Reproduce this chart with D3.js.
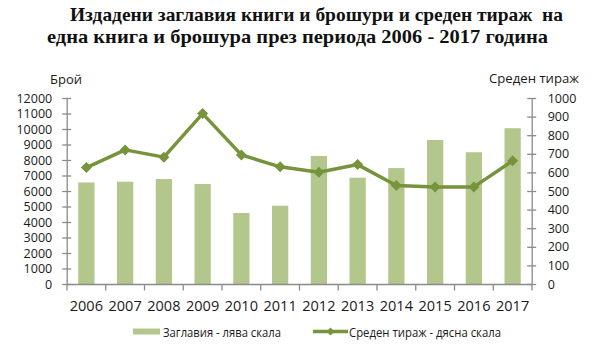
<!DOCTYPE html>
<html>
<head>
<meta charset="utf-8">
<script src="https://cdn.jsdelivr.net/npm/d3@7/dist/d3.min.js"></script>
<style>
  html, body { margin: 0; padding: 0; background: #fff; }
  svg { display: block; }
  text { font-family: "Open Sans", sans-serif; fill: #1a1a1a; }
  .title { font-family: "Liberation Serif", "Times New Roman", serif; font-weight: bold; font-size: 19.5px; fill: #111; white-space: pre; }
</style>
</head>
<body>
<svg id="chart" width="614" height="346"></svg>
<script>
// Years on the category axis
const years = ["2006", "2007", "2008", "2009", "2010", "2011", "2012", "2013", "2014", "2015", "2016", "2017"];
// Published titles (books and brochures) – left scale
const titles = [6550, 6600, 6770, 6450, 4580, 5050, 8260, 6860, 7480, 9290, 8500, 10050];
// Average print run per title – right scale
const avgRun = [626, 721, 682, 916, 694, 630, 601, 642, 530, 521, 522, 662];
// Axis tick values
const leftTicks = d3.range(0, 12001, 1000);
const rightTicks = d3.range(0, 1001, 100);

const titleLines = [
  "Издадени заглавия книги и брошури и среден тираж  на",
  "една книга и брошура през периода 2006 - 2017 година"
];
const legendLabels = ["Заглавия - лява скала", "Среден тираж - дясна скала"];

const barColor = "#b3c78c";
const lineColor = "#77933c";
const axisColor = "#8a8a8a";

const svg = d3.select("#chart");

// Title
svg.append("text").attr("class", "title")
  .attr("x", 70).attr("y", 21)
  .attr("textLength", 493).attr("lengthAdjust", "spacingAndGlyphs")
  .text(titleLines[0]);
svg.append("text").attr("class", "title")
  .attr("x", 47).attr("y", 43)
  .attr("textLength", 501).attr("lengthAdjust", "spacingAndGlyphs")
  .text(titleLines[1]);

const plotLeft = 67, plotRight = 532, plotTop = 98, plotBottom = 284;

const x = d3.scaleBand().domain(years).range([plotLeft, plotRight])
  .paddingInner(0.58).paddingOuter(0.29);
const yL = d3.scaleLinear().domain([0, 12000]).range([plotBottom, plotTop]);
const yR = d3.scaleLinear().domain([0, 1000]).range([plotBottom, plotTop]);

// Bars
svg.append("g").selectAll("rect").data(titles).join("rect")
  .attr("x", (d, i) => x(years[i]))
  .attr("width", x.bandwidth())
  .attr("y", d => yL(d))
  .attr("height", d => yL(0) - yL(d))
  .attr("fill", barColor);

// Axis styling helper
function styleAxis(g) {
  g.selectAll(".domain").attr("stroke", axisColor).attr("stroke-width", 1.3);
  g.selectAll(".tick line").attr("stroke", axisColor).attr("stroke-width", 1.3);
}

// Left axis with crossing ticks
const gL = svg.append("g").attr("transform", `translate(${plotLeft - 0.3},0)`)
  .call(d3.axisLeft(yL).tickValues(leftTicks).tickSizeInner(4.5).tickSizeOuter(0).tickPadding(10).tickFormat(d3.format("d")));
gL.selectAll(".tick line").attr("x1", 4.5);
gL.selectAll(".tick text").style("font-size", "12.5px").attr("fill", "#1a1a1a");
styleAxis(gL);

// Right axis with crossing ticks
const gR = svg.append("g").attr("transform", `translate(${plotRight - 0.3},0)`)
  .call(d3.axisRight(yR).tickValues(rightTicks).tickSizeInner(4.5).tickSizeOuter(0).tickPadding(11.5).tickFormat(d3.format("d")));
gR.selectAll(".tick line").attr("x1", -4.5);
gR.selectAll(".tick text").style("font-size", "12.5px").attr("fill", "#1a1a1a");
styleAxis(gR);

// Bottom axis: labels at band centres, ticks at category boundaries
const gB = svg.append("g").attr("transform", `translate(0,${plotBottom + 0.5})`);
gB.append("line").attr("x1", plotLeft).attr("x2", plotRight)
  .attr("stroke", axisColor).attr("stroke-width", 1.3);
const half = (x.step() - x.bandwidth()) / 2;
const bounds = years.map(yv => x(yv) - half).concat([x(years[years.length - 1]) + x.bandwidth() + half]);
gB.selectAll("line.tk").data(bounds).join("line").attr("class", "tk")
  .attr("x1", d => d).attr("x2", d => d).attr("y1", 0).attr("y2", 6)
  .attr("stroke", axisColor).attr("stroke-width", 1.3);
gB.selectAll("text").data(years).join("text")
  .attr("x", d => x(d) + x.bandwidth() / 2)
  .attr("y", 26)
  .attr("text-anchor", "middle")
  .style("font-size", "14.5px")
  .attr("fill", "#222")
  .text(d => d);

// Axis titles
svg.append("text").attr("x", 50).attr("y", 84).style("font-size", "13px").text("Брой");
svg.append("text").attr("x", 489).attr("y", 83).style("font-size", "13px")
  .attr("textLength", 90).attr("lengthAdjust", "spacingAndGlyphs").text("Среден тираж");

// Average run line with diamond markers
const cx = i => x(years[i]) + x.bandwidth() / 2;
const line = d3.line().x((d, i) => cx(i)).y(d => yR(d));
svg.append("path").datum(avgRun)
  .attr("d", line).attr("fill", "none")
  .attr("stroke", lineColor).attr("stroke-width", 3.5).attr("stroke-linejoin", "round");
const diamond = s => `M0,${-s}L${s},0L0,${s}L${-s},0Z`;
svg.append("g").selectAll("path").data(avgRun).join("path")
  .attr("transform", (d, i) => `translate(${cx(i)},${yR(d)})`)
  .attr("d", diamond(5.5))
  .attr("fill", lineColor);

// Legend
const lg = svg.append("g");
lg.append("rect").attr("x", 133).attr("y", 328.5).attr("width", 27).attr("height", 6).attr("fill", barColor);
lg.append("text").attr("x", 163).attr("y", 336.5).style("font-size", "12.5px").attr("fill", "#222")
  .attr("textLength", 118).attr("lengthAdjust", "spacingAndGlyphs").text(legendLabels[0]);
lg.append("line").attr("x1", 313).attr("x2", 348).attr("y1", 331.5).attr("y2", 331.5)
  .attr("stroke", lineColor).attr("stroke-width", 3.5);
lg.append("path").attr("transform", "translate(330.5,331.5)").attr("d", diamond(4)).attr("fill", lineColor);
lg.append("text").attr("x", 349).attr("y", 336.5).style("font-size", "12.5px").attr("fill", "#222")
  .attr("textLength", 152).attr("lengthAdjust", "spacingAndGlyphs").text(legendLabels[1]);
</script>
</body>
</html>
